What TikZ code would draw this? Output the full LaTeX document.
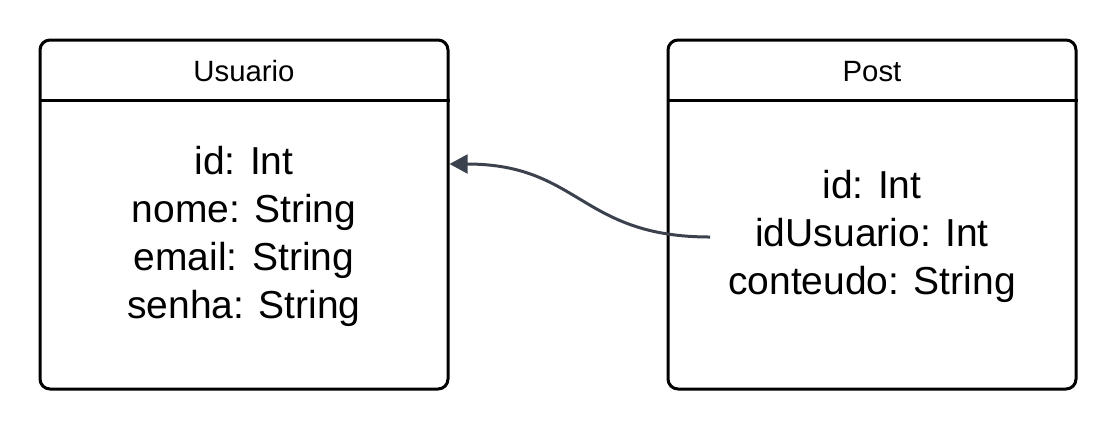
\documentclass[tikz,border=0pt]{standalone}
\usepackage{fontspec}
\setmainfont{Liberation Sans}
\usetikzlibrary{arrows.meta}
\definecolor{lienfk}{HTML}{3B424D}
\tikzset{
	entite/.style={draw, line width=2.25pt, rounded corners=7.5pt, minimum width=306pt, minimum height=261.75pt, inner sep=0pt},
	titre/.style={anchor=base, font=\fontsize{22pt}{26pt}\selectfont, inner sep=0pt},
	champs/.style={anchor=base, align=center, font=\fontsize{29.25pt}{36pt}\selectfont, inner sep=0pt},
	fk/.style={draw=lienfk, line width=2.25pt, -{Triangle[length=13.5pt, width=14pt]}}
}
\begin{document}
\begin{tikzpicture}[x=0.75pt, y=-0.75pt]
	\useasboundingbox (0,0) rectangle (1116,430);
	
	\node[entite] (usuario) at (244,214.5) {};
	\node[entite] (post) at (872,214.5) {};
	\draw[line width=2.25pt] (usuario.west |- 0,100) -- (usuario.east |- 0,100);
	\draw[line width=2.25pt] (post.west |- 0,100) -- (post.east |- 0,100);
	
	\node[titre] (tusuario) at (244,81.5) {Usuario};
	\node[titre] (tpost) at (872,81.5) {Post};
	
	% ancre base = ligne du bas
	\node[champs] (cusuario) at (244,318) {id: Int\\nome: String\\email: String\\senha: String};
	\node[champs] (cpost) at (872,294) {id: Int\\idUsuario: Int\\conteudo: String};
	
	\coordinate (fkdebut) at (710,237);
	\coordinate (fkfin) at (usuario.east |- 0,164);
	\path[fk] (fkdebut) .. controls (580,237) and (580,164) .. (fkfin);
	
\end{tikzpicture}
\end{document}
